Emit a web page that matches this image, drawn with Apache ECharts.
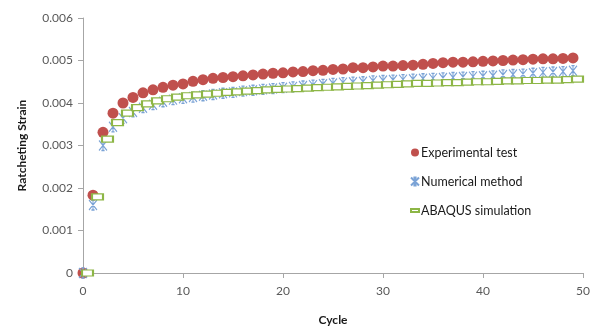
<!DOCTYPE html>
<html><head><meta charset="utf-8">
<script src="https://cdn.jsdelivr.net/npm/echarts@6/dist/echarts.min.js"></script>
<style>html,body{margin:0;padding:0;background:#fff}#c{width:598px;height:331px}</style>
</head><body><div id="c"></div>
<script>
// Cycle numbers
var cycles = [0,1,2,3,4,5,6,7,8,9,10,11,12,13,14,15,16,17,18,19,20,21,22,23,24,25,26,27,28,29,30,31,32,33,34,35,36,37,38,39,40,41,42,43,44,45,46,47,48,49];
// ABAQUS points are plotted slightly right of each cycle in the reference
var abaqusCycles = [0.45,1.45,2.45,3.45,4.45,5.45,6.45,7.45,8.45,9.45,10.45,11.45,12.45,13.45,14.45,15.45,16.45,17.45,18.45,19.45,20.45,21.45,22.45,23.45,24.45,25.45,26.45,27.45,28.45,29.45,30.45,31.45,32.45,33.45,34.45,35.45,36.45,37.45,38.45,39.45,40.45,41.45,42.45,43.45,44.45,45.45,46.45,47.45,48.45,49.45];
// values in units of 1e-3
var experimental = [0,1.83,3.31,3.76,4.00,4.13,4.24,4.31,4.37,4.42,4.45,4.51,4.55,4.58,4.60,4.62,4.64,4.66,4.68,4.70,4.71,4.73,4.74,4.76,4.77,4.79,4.80,4.83,4.83,4.85,4.87,4.87,4.88,4.89,4.91,4.93,4.95,4.96,4.96,4.97,4.98,4.99,5.00,5.01,5.02,5.03,5.04,5.04,5.05,5.06];
var numerical = [0,1.60,3.00,3.44,3.64,3.79,3.89,3.96,4.03,4.08,4.11,4.14,4.17,4.20,4.23,4.25,4.28,4.30,4.32,4.34,4.36,4.38,4.40,4.42,4.44,4.46,4.48,4.49,4.50,4.52,4.53,4.54,4.55,4.56,4.57,4.58,4.59,4.60,4.61,4.62,4.63,4.64,4.66,4.67,4.68,4.70,4.72,4.73,4.74,4.76];
var abaqus = [0,1.79,3.15,3.54,3.76,3.89,3.98,4.05,4.10,4.14,4.17,4.19,4.21,4.23,4.25,4.26,4.28,4.29,4.31,4.32,4.33,4.34,4.35,4.36,4.37,4.38,4.39,4.40,4.41,4.42,4.43,4.44,4.45,4.46,4.46,4.47,4.48,4.48,4.49,4.50,4.50,4.51,4.52,4.52,4.53,4.53,4.54,4.54,4.55,4.56];
var seriesNames = ['Experimental test','Numerical method','ABAQUS simulation'];
var xTicks = [0,10,20,30,40,50];
var yTicks = ['0','0.001','0.002','0.003','0.004','0.005','0.006'];

function pairs(xs, ys){ return xs.map(function(x,i){ return [x, ys[i]/1000]; }); }

var starPath = 'path://M0,0L10,10M10,0L0,10M5,0L5,10M3,0L7,0M3,10L7,10';
var dashPath = 'path://M0,0L10,0L10,4L0,4Z';
var font = 'Lato, "Open Sans", sans-serif';
var chart = echarts.init(document.getElementById('c'), null, {renderer:'canvas'});
chart.setOption({
  animation:false,
  backgroundColor:'#fff',
  textStyle:{fontFamily:font},
  grid:{left:83,right:15,top:18,bottom:56,containLabel:false},
  legend:{
    orient:'vertical', left:405, top:141, itemGap:16, itemWidth:8, itemHeight:8,
    textStyle:{fontFamily:font,fontSize:12.5,color:'#1a1a1a',padding:[0,0,0,-3]},
    data:[
      {name:seriesNames[0], icon:'circle'},
      {name:seriesNames[1], icon:starPath},
      {name:seriesNames[2], icon:dashPath}
    ]
  },
  xAxis:{
    type:'value', min:0, max:50, interval:10,
    name:'Cycle', nameLocation:'middle', nameGap:41,
    nameTextStyle:{fontFamily:font,fontSize:12,fontWeight:'bold',color:'#1a1a1a'},
    axisLine:{show:true,lineStyle:{color:'#a6a6a6'}},
    axisTick:{show:true,length:5,lineStyle:{color:'#a6a6a6'}},
    axisLabel:{margin:12,fontSize:12,color:'#595959',fontFamily:font,
      formatter:function(v){ return xTicks.indexOf(v)>=0 ? String(v) : ''; }},
    splitLine:{show:false}
  },
  yAxis:{
    type:'value', min:0, max:0.006, interval:0.001,
    name:'Ratcheting Strain', nameLocation:'middle', nameGap:55,
    nameTextStyle:{fontFamily:font,fontSize:12,fontWeight:'bold',color:'#1a1a1a'},
    axisLine:{show:true,lineStyle:{color:'#a6a6a6'}},
    axisTick:{show:true,length:5,lineStyle:{color:'#a6a6a6'}},
    axisLabel:{margin:10,fontSize:12,color:'#595959',fontFamily:font,
      formatter:function(v){ return yTicks[Math.round(v*1000)]; }},
    splitLine:{show:false}
  },
  series:[
    {name:seriesNames[0], type:'scatter', data:pairs(cycles, experimental),
     symbol:'circle', symbolSize:11, itemStyle:{color:'#C0504D',opacity:1}},
    {name:seriesNames[1], type:'scatter', data:pairs(cycles, numerical),
     symbol:starPath, symbolSize:[8,10],
     itemStyle:{color:'rgba(0,0,0,0)',borderColor:'#7BA3D6',borderWidth:1.2,opacity:1}},
    {name:seriesNames[2], type:'scatter', data:pairs(abaqusCycles, abaqus),
     symbol:'rect', symbolSize:[11,6],
     itemStyle:{color:'#ffffff',borderColor:'#8DB646',borderWidth:1.6,opacity:1}}
  ]
});
</script></body></html>
